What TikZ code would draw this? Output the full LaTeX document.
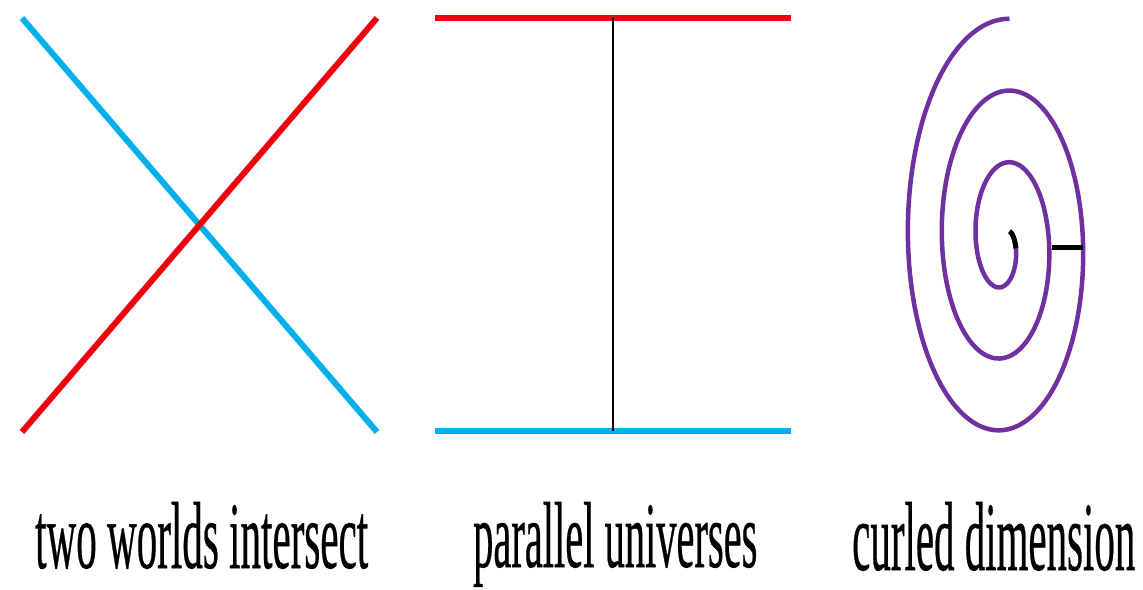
\documentclass[tikz,border=0pt]{standalone}
\usepackage{fontspec}
\setmainfont{Liberation Serif}[FakeBold=0.6]
\usepackage{graphicx}
\definecolor{wred}{RGB}{240,0,10}
\definecolor{wblue}{RGB}{0,176,236}
\definecolor{wpurple}{RGB}{112,48,160}
\begin{document}
\begin{tikzpicture}[x=1pt,y=-1pt,
  world/.style={line width=6pt},
  link/.style={line width=2pt,black},
  curl/.style={line width=4.5pt,wpurple},
  label/.style={inner sep=0pt,anchor=base west}]
\useasboundingbox (0,0) rectangle (1143,589);
% panel 1
\coordinate (b1) at (22,18);
\coordinate (b2) at (377,432);
\coordinate (r1) at (22,432);
\coordinate (r2) at (377,18);
\draw[world,wblue] (b1) -- (b2);
\draw[world,wred] (r1) -- (r2);
% panel 2
\coordinate (t1) at (435,18);
\coordinate (t2) at (791,18);
\coordinate (u1) at (435,431);
\coordinate (u2) at (791,431);
\coordinate (tm) at (613,18);
\coordinate (um) at (613,431);
\draw[world,wred] (t1) -- (t2);
\draw[world,wblue] (u1) -- (u2);
\draw[link] (tm) -- (um);
% panel 3
\draw[curl] plot[smooth,samples=240,domain=-3:980,variable=\t]
  ({1004-(104.5-0.094444*\t)*sin(\t)},{242.5-(223.5-0.2*\t)*cos(\t)});
\draw[line width=5pt,black] plot[smooth,samples=20,domain=978:1030,variable=\t]
  ({1004-(104.5-0.094444*\t)*sin(\t)},{242.5-(223.5-0.2*\t)*cos(\t)});
\coordinate (k1) at (1052,247);
\coordinate (k2) at (1083,247);
\draw[line width=5pt,black] (k1) -- (k2);
% labels
\node[label] (l1) at (35,568) {\resizebox{333pt}{66pt}{two worlds intersect}};
\node[label] (l2) at (473,567) {\resizebox{284pt}{65pt}{parallel universes}};
\node[label] (l3) at (852,570) {\resizebox{283pt}{68pt}{curled dimension}};
\end{tikzpicture}
\end{document}
